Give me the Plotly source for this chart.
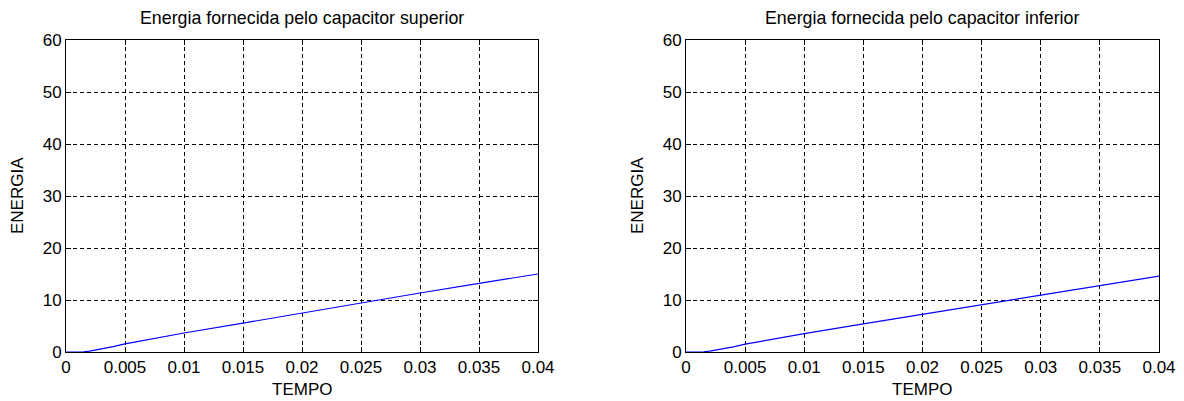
import plotly.graph_objects as go

tempo = [0, 0.001, 0.0015, 0.002, 0.003, 0.004, 0.005, 0.01, 0.015, 0.02, 0.025, 0.03, 0.035, 0.04]
energia_sup = [0, 0.01, 0.05, 0.18, 0.55, 1.05, 1.55, 3.65, 5.55, 7.5, 9.45, 11.35, 13.2, 15.0]
energia_inf = [0, 0.01, 0.05, 0.17, 0.52, 1.0, 1.5, 3.55, 5.4, 7.25, 9.1, 10.95, 12.75, 14.6]

titles = ["Energia fornecida pelo capacitor superior", "Energia fornecida pelo capacitor inferior"]
x_ticks = [0, 0.005, 0.01, 0.015, 0.02, 0.025, 0.03, 0.035, 0.04]
x_labels = ["0", "0.005", "0.01", "0.015", "0.02", "0.025", "0.03", "0.035", "0.04"]
y_ticks = [0, 10, 20, 30, 40, 50, 60]
x_title = "TEMPO"
y_title = "ENERGIA"

# page has an 8px body margin; figure sized to fit the visible window
OFF = 8
W, H = 1184 - OFF, 401 - OFF
fig = go.Figure()
font = "Liberation Sans, Arial, sans-serif"


def px_x(p):
    return (p - OFF) / W


def px_y(p):
    return (H - (p - OFF)) / H


domains_x = [(px_x(66), px_x(538)), (px_x(686), px_x(1159))]
dom_y = (px_y(352), px_y(40))
series = [energia_sup, energia_inf]

for i in range(2):
    xa = "x" if i == 0 else "x2"
    ya = "y" if i == 0 else "y2"
    fig.add_trace(go.Scatter(x=tempo, y=series[i], mode="lines",
                             line=dict(color="#0000ff", width=1.2),
                             xaxis=xa, yaxis=ya, showlegend=False, cliponaxis=False))
    axis_common = dict(showline=True, linecolor="black", linewidth=1, mirror="ticks",
                       ticks="inside", ticklen=5, tickcolor="black",
                       showgrid=True, gridcolor="black", griddash="4px,3px", gridwidth=1,
                       zeroline=False, automargin=False,
                       tickfont=dict(family=font, size=17, color="black"))
    xkey = "xaxis" if i == 0 else "xaxis2"
    ykey = "yaxis" if i == 0 else "yaxis2"
    fig.layout[xkey] = dict(domain=domains_x[i], range=[0, 0.04], tickvals=x_ticks, ticktext=x_labels,
                            anchor=ya, **axis_common)
    fig.layout[ykey] = dict(domain=dom_y, range=[0, 60], tickvals=y_ticks, anchor=xa, **axis_common)
    cx = (domains_x[i][0] + domains_x[i][1]) / 2
    fig.add_annotation(text=titles[i], x=cx, y=px_y(18),
                       xref="paper", yref="paper", showarrow=False,
                       font=dict(family=font, size=17.8, color="black"), xanchor="center", yanchor="middle")
    fig.add_annotation(text=x_title, x=cx, y=px_y(389),
                       xref="paper", yref="paper", showarrow=False,
                       font=dict(family=font, size=17, color="black"), xanchor="center", yanchor="middle")
    fig.add_annotation(text=y_title, x=px_x(18 if i == 0 else 638), y=(dom_y[0] + dom_y[1]) / 2,
                       xref="paper", yref="paper", showarrow=False, textangle=-90,
                       font=dict(family=font, size=17, color="black"), xanchor="center", yanchor="middle")

fig.update_layout(width=W, height=H, margin=dict(l=0, r=0, t=0, b=0),
                  paper_bgcolor="white", plot_bgcolor="white")
fig.write_html("out.html")
